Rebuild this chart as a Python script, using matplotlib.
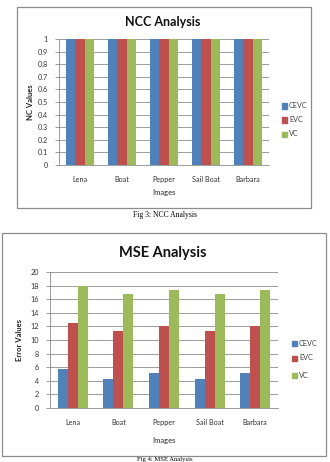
import matplotlib
matplotlib.use("Agg")
import matplotlib.pyplot as plt
import numpy as np
from matplotlib.patches import Rectangle

W, H = 330, 462

images = ["Lena", "Boat", "Pepper", "Sail Boat", "Barbara"]
series = ["CEVC", "EVC", "VC"]
colors = ["#4F81BD", "#C0504D", "#9BBB59"]

ncc_cevc = [1, 1, 1, 1, 1]
ncc_evc = [1, 1, 1, 1, 1]
ncc_vc = [1, 1, 1, 1, 1]

mse_cevc = [5.7, 4.2, 5.2, 4.2, 5.2]
mse_evc = [12.5, 11.3, 12.1, 11.3, 12.1]
mse_vc = [18.0, 16.8, 17.3, 16.8, 17.3]

ncc_ticks = [0, 0.1, 0.2, 0.3, 0.4, 0.5, 0.6, 0.7, 0.8, 0.9, 1]
ncc_labels = ["0", "0.1", "0.2", "0.3", "0.4", "0.5", "0.6", "0.7", "0.8", "0.9", "1"]
mse_ticks = [0, 2, 4, 6, 8, 10, 12, 14, 16, 18, 20]

plt.rcParams['font.family'] = ['Lato', 'DejaVu Sans']

fig = plt.figure(figsize=(W / 100, H / 100), dpi=100)
fig.patch.set_facecolor("white")


def box(x0, y0, x1, y1):
    # pixel box (top-left origin) -> figure fraction rect
    return [x0 / W, 1 - y1 / H, (x1 - x0) / W, (y1 - y0) / H]


def border(x0, y0, x1, y1):
    r = Rectangle((x0 / W, 1 - y1 / H), (x1 - x0) / W, (y1 - y0) / H,
                  transform=fig.transFigure, fill=False, edgecolor="#8c8c8c", linewidth=0.9)
    fig.patches.append(r)


def rect_center_y(rect):
    return (1 - rect[1] - rect[3] / 2) * H


def bar_chart(rect, data, ticks, ticklabels, ylabel, title, title_xy, title_size,
              ylabel_x, leg_x, leg_ys, xlabel_y):
    ax = fig.add_axes(rect)
    x = np.arange(len(images))
    bw = 0.22
    for i, vals in enumerate(data):
        ax.bar(x + (i - 1) * bw, vals, bw, color=colors[i], zorder=3)
    ax.set_xlim(-0.5, len(images) - 0.5)
    ax.set_ylim(ticks[0], ticks[-1])
    ax.set_yticks(ticks)
    ax.set_yticklabels(ticklabels, fontsize=5.2, color="#333333")
    ax.set_xticks(x)
    ax.set_xticklabels(images, fontsize=5.2, color="#333333")
    ax.tick_params(axis="x", length=0, pad=8)
    ax.tick_params(axis="y", length=3, width=0.6, color="#8c8c8c", pad=5)
    ax.grid(axis="y", color="#8c8c8c", linewidth=0.6, zorder=0)
    for s in ["top", "right"]:
        ax.spines[s].set_visible(False)
    for s in ["left", "bottom"]:
        ax.spines[s].set_color("#8c8c8c")
        ax.spines[s].set_linewidth(0.6)
    fig.text(ylabel_x / W, 1 - rect_center_y(rect) / H, ylabel, rotation=90,
             fontsize=5.5, fontweight="bold", ha="center", va="center", color="#222222")
    fig.text(title_xy[0] / W, 1 - title_xy[1] / H, title, fontsize=title_size,
             fontweight="bold", ha="center", va="center", color="#111111")
    cx = rect[0] + rect[2] / 2
    fig.text(cx, 1 - xlabel_y / H, "Images", fontsize=5.5, ha="center", va="center", color="#222222")
    for i, s in enumerate(series):
        sq = Rectangle(((leg_x - 2.5) / W, 1 - (leg_ys[i] + 2.5) / H), 5 / W, 5 / H,
                       transform=fig.transFigure, color=colors[i])
        fig.patches.append(sq)
        fig.text((leg_x + 5) / W, 1 - leg_ys[i] / H, s, fontsize=5.2, ha="left",
                 va="center", color="#444444")
    return ax


# top chart: NCC
border(17, 7, 311, 208)
bar_chart(box(59, 39, 269, 165), [ncc_cevc, ncc_evc, ncc_vc], ncc_ticks, ncc_labels,
          "NC Values", "NCC Analysis", (163, 22), 9, 31, 284, [106, 120, 134], 193)
fig.text(165 / W, 1 - 215 / H, "Fig 3: NCC Analysis", fontsize=5.5,
         family="Liberation Serif", ha="center", va="center")

# bottom chart: MSE
border(2, 233, 326, 456)
bar_chart(box(50, 272, 278, 408), [mse_cevc, mse_evc, mse_vc], mse_ticks,
          [str(t) for t in mse_ticks], "Error Values", "MSE Analysis", (163, 253), 10.5,
          19, 294, [343, 358, 375], 441)
fig.text(165 / W, 1 - 459.5 / H, "Fig 4: MSE Analysis", fontsize=4.8,
         family="Liberation Serif", ha="center", va="center")

fig.savefig("out.png", dpi=100)
